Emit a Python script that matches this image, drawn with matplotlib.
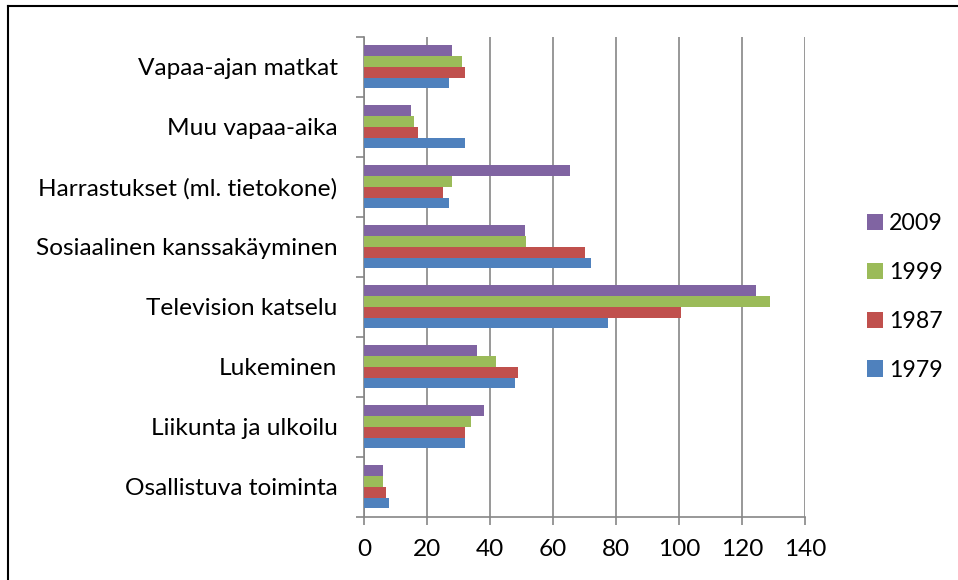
import matplotlib
matplotlib.use("Agg")
import matplotlib.pyplot as plt
import numpy as np
from matplotlib.lines import Line2D

plt.rcParams['font.family'] = ['Lato', 'DejaVu Sans']

categories = ["Osallistuva toiminta", "Liikunta ja ulkoilu", "Lukeminen",
              "Television katselu", "Sosiaalinen kanssakäyminen",
              "Harrastukset (ml. tietokone)", "Muu vapaa-aika", "Vapaa-ajan matkat"]
v1979 = [8, 32, 48, 77.5, 72, 27, 32, 27]
v1987 = [7, 32, 49, 100.5, 70, 25, 17, 32]
v1999 = [6, 34, 42, 129, 51.5, 28, 16, 31]
v2009 = [6, 38, 36, 124.5, 51, 65.5, 15, 28]
series = [("1979", v1979, "#4F81BD"), ("1987", v1987, "#C0504D"),
          ("1999", v1999, "#9BBB59"), ("2009", v2009, "#8064A2")]
xticks = [0, 20, 40, 60, 80, 100, 120, 140]

W, H = 958, 580
fig = plt.figure(figsize=(W / 100, H / 100), dpi=100)
ax = fig.add_axes([364 / W, 1 - 516.7 / H, (805 - 364) / W, 480 / H])

bh = 0.18
offsets = [-0.27, -0.09, 0.09, 0.27]
y = np.arange(len(categories)) + 0.5
handles = []
for (name, vals, col), off in zip(series, offsets):
    b = ax.barh(y + off, vals, height=bh, color=col, zorder=3, label=name)
    handles.append(b)

ax.set_xlim(0, 140)
ax.set_ylim(0, len(categories))
ax.set_xticks(xticks)
ax.set_xticklabels([str(t) for t in xticks])
ax.set_yticks(np.arange(len(categories) + 1))
ax.set_yticklabels([])
ax.set_yticks(y, minor=True)
ax.set_yticklabels(categories, minor=True)
ax.tick_params(axis='y', which='minor', length=0, pad=19, labelsize=17.6)
ax.tick_params(axis='y', which='major', length=5.8, width=1.2, color='#868686', direction='out')
ax.tick_params(axis='x', length=5.8, width=1.2, color='#868686', direction='out', pad=10, labelsize=17.6)
ax.grid(axis='x', color='#868686', linewidth=1.2, zorder=0)
for s in ['top', 'right']:
    ax.spines[s].set_visible(False)
for s in ['left', 'bottom']:
    ax.spines[s].set_color('#868686')
    ax.spines[s].set_linewidth(1.2)
ax.set_axisbelow(True)

leg = ax.legend(handles[::-1], [h.get_label() for h in handles[::-1]],
                loc='center left', bbox_to_anchor=(1.14, 0.458), frameon=False,
                fontsize=16.7, handlelength=0.69, handleheight=0.69,
                labelspacing=1.2, handletextpad=0.28, borderpad=0, borderaxespad=0)

# outer frame (left and top edges)
fig.add_artist(Line2D([8 / W, 8 / W], [0, 1 - 6 / H], color='black', lw=1.5, transform=fig.transFigure))
fig.add_artist(Line2D([8 / W, 1], [1 - 6 / H, 1 - 6 / H], color='black', lw=1.5, transform=fig.transFigure))

fig.savefig("out.png", dpi=100)
